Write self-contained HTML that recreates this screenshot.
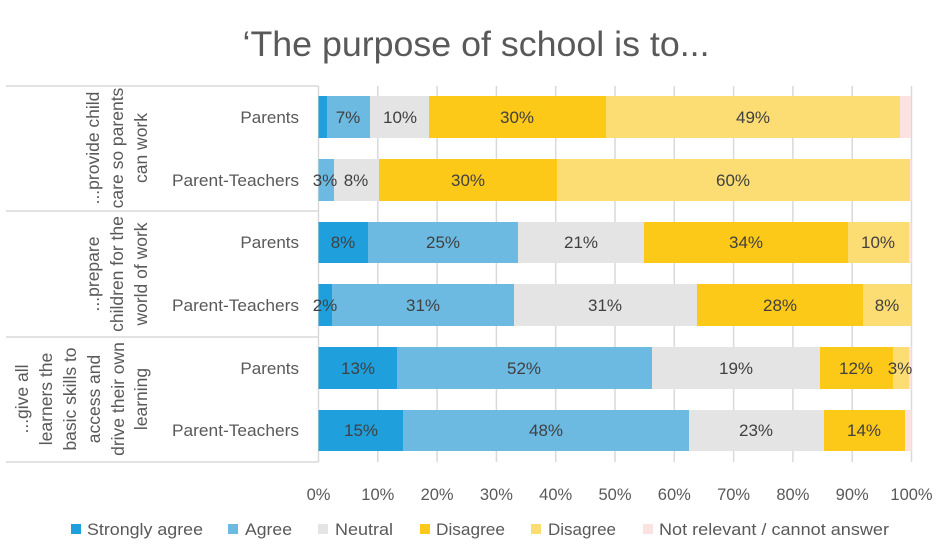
<!DOCTYPE html>
<html><head><meta charset="utf-8"><style>
html,body{margin:0;padding:0;background:#fff;}
svg{display:block;font-family:"Liberation Sans",sans-serif;}
</style></head><body>
<svg width="948" height="549" viewBox="0 0 948 549" xmlns="http://www.w3.org/2000/svg">
<text x="476" y="56" text-anchor="middle" font-size="35" fill="#595959" textLength="467" lengthAdjust="spacingAndGlyphs">‘The purpose of school is to...</text>
<g stroke="#d9d9d9" stroke-width="1.5">
<line x1="377.8" y1="86" x2="377.8" y2="462"/><line x1="437.1" y1="86" x2="437.1" y2="462"/>
<line x1="496.4" y1="86" x2="496.4" y2="462"/><line x1="555.7" y1="86" x2="555.7" y2="462"/>
<line x1="615" y1="86" x2="615" y2="462"/><line x1="674.3" y1="86" x2="674.3" y2="462"/>
<line x1="733.6" y1="86" x2="733.6" y2="462"/><line x1="792.9" y1="86" x2="792.9" y2="462"/>
<line x1="852.2" y1="86" x2="852.2" y2="462"/><line x1="911.5" y1="86" x2="911.5" y2="462"/>
<line x1="318.5" y1="86" x2="318.5" y2="462"/>
<line x1="6" y1="86" x2="318.5" y2="86"/><line x1="6" y1="211" x2="318.5" y2="211"/>
<line x1="6" y1="337" x2="318.5" y2="337"/><line x1="6" y1="462" x2="318.5" y2="462"/>
</g>
<g>
<rect x="318.5" y="96" width="9" height="42" fill="#1fa0dd"/><rect x="327" y="96" width="43" height="42" fill="#6cbae2"/><rect x="370" y="96" width="59" height="42" fill="#e4e4e4"/><rect x="429" y="96" width="177" height="42" fill="#fcc918"/><rect x="606" y="96" width="294" height="42" fill="#fcdd73"/><rect x="900" y="96" width="11" height="42" fill="#fde2e2"/>
<rect x="318.5" y="159" width="15.5" height="42" fill="#6cbae2"/><rect x="334" y="159" width="45" height="42" fill="#e4e4e4"/><rect x="379" y="159" width="178" height="42" fill="#fcc918"/><rect x="557" y="159" width="353" height="42" fill="#fcdd73"/><rect x="910" y="159" width="1.5" height="42" fill="#fde2e2"/>
<rect x="318.5" y="222" width="49.5" height="41" fill="#1fa0dd"/><rect x="368" y="222" width="150" height="41" fill="#6cbae2"/><rect x="518" y="222" width="126" height="41" fill="#e4e4e4"/><rect x="644" y="222" width="204" height="41" fill="#fcc918"/><rect x="848" y="222" width="61" height="41" fill="#fcdd73"/><rect x="909" y="222" width="2.5" height="41" fill="#fde2e2"/>
<rect x="318.5" y="284" width="13.5" height="42" fill="#1fa0dd"/><rect x="332" y="284" width="182" height="42" fill="#6cbae2"/><rect x="514" y="284" width="183" height="42" fill="#e4e4e4"/><rect x="697" y="284" width="166" height="42" fill="#fcc918"/><rect x="863" y="284" width="48.5" height="42" fill="#fcdd73"/>
<rect x="318.5" y="347" width="78.5" height="42" fill="#1fa0dd"/><rect x="397" y="347" width="255" height="42" fill="#6cbae2"/><rect x="652" y="347" width="168" height="42" fill="#e4e4e4"/><rect x="820" y="347" width="73" height="42" fill="#fcc918"/><rect x="893" y="347" width="16" height="42" fill="#fcdd73"/><rect x="909" y="347" width="2.5" height="42" fill="#fde2e2"/>
<rect x="318.5" y="410" width="84.5" height="41" fill="#1fa0dd"/><rect x="403" y="410" width="286" height="41" fill="#6cbae2"/><rect x="689" y="410" width="135" height="41" fill="#e4e4e4"/><rect x="824" y="410" width="81" height="41" fill="#fcc918"/><rect x="905" y="410" width="6.5" height="41" fill="#fde2e2"/>
</g>
<g font-size="17" fill="#404040" text-anchor="middle">
<text x="348" y="123">7%</text><text x="400" y="123">10%</text><text x="517" y="123">30%</text><text x="753" y="123">49%</text>
<text x="325" y="186">3%</text><text x="356" y="186">8%</text><text x="468" y="186">30%</text><text x="733" y="186">60%</text>
<text x="343" y="248">8%</text><text x="443" y="248">25%</text><text x="581" y="248">21%</text><text x="746" y="248">34%</text><text x="878" y="248">10%</text>
<text x="325" y="311">2%</text><text x="423" y="311">31%</text><text x="605" y="311">31%</text><text x="780" y="311">28%</text><text x="887" y="311">8%</text>
<text x="358" y="374">13%</text><text x="524" y="374">52%</text><text x="736" y="374">19%</text><text x="856" y="374">12%</text><text x="900" y="374">3%</text>
<text x="361" y="436">15%</text><text x="546" y="436">48%</text><text x="756" y="436">23%</text><text x="864" y="436">14%</text>
</g>
<g font-size="17" fill="#595959" text-anchor="end">
<text x="299" y="123">Parents</text><text x="299" y="186" textLength="127" lengthAdjust="spacingAndGlyphs">Parent-Teachers</text>
<text x="299" y="248">Parents</text><text x="299" y="311" textLength="127" lengthAdjust="spacingAndGlyphs">Parent-Teachers</text>
<text x="299" y="374">Parents</text><text x="299" y="436" textLength="127" lengthAdjust="spacingAndGlyphs">Parent-Teachers</text>
</g>
<g font-size="17.5" fill="#595959" text-anchor="middle">
<g transform="translate(123,148) rotate(-90)"><text x="0" y="-24">...provide child</text><text x="0" y="0">care so parents</text><text x="0" y="24">can work</text></g>
<g transform="translate(123,274) rotate(-90)"><text x="0" y="-24">...prepare</text><text x="0" y="0">children for the</text><text x="0" y="24">world of work</text></g>
<g transform="translate(76,399) rotate(-90)"><text x="0" y="-48">...give all</text><text x="0" y="-24">learners the</text><text x="0" y="0">basic skills to</text><text x="0" y="24">access and</text><text x="0" y="48">drive their own</text><text x="0" y="71">learning</text></g>
</g>
<g font-size="16.5" fill="#595959" text-anchor="middle">
<text x="318.5" y="500">0%</text><text x="377.8" y="500">10%</text><text x="437.1" y="500">20%</text><text x="496.4" y="500">30%</text><text x="555.7" y="500">40%</text><text x="615" y="500">50%</text><text x="674.3" y="500">60%</text><text x="733.6" y="500">70%</text><text x="792.9" y="500">80%</text><text x="852.2" y="500">90%</text><text x="911.5" y="500">100%</text>
</g>
<g font-size="17" fill="#595959">
<rect x="71" y="524" width="10" height="10" fill="#1fa0dd"/><text x="87" y="535" textLength="116" lengthAdjust="spacingAndGlyphs">Strongly agree</text>
<rect x="228" y="524" width="10" height="10" fill="#6cbae2"/><text x="245" y="535" textLength="47" lengthAdjust="spacingAndGlyphs">Agree</text>
<rect x="318" y="524" width="10" height="10" fill="#e4e4e4"/><text x="335" y="535" textLength="58" lengthAdjust="spacingAndGlyphs">Neutral</text>
<rect x="420" y="524" width="10" height="10" fill="#fcc918"/><text x="436" y="535" textLength="69" lengthAdjust="spacingAndGlyphs">Disagree</text>
<rect x="531" y="524" width="10" height="10" fill="#fcdd73"/><text x="548" y="535" textLength="68" lengthAdjust="spacingAndGlyphs">Disagree</text>
<rect x="643" y="524" width="10" height="10" fill="#fde2e2"/><text x="659" y="535" textLength="230" lengthAdjust="spacingAndGlyphs">Not relevant / cannot answer</text>
</g>
</svg>
</body></html>
